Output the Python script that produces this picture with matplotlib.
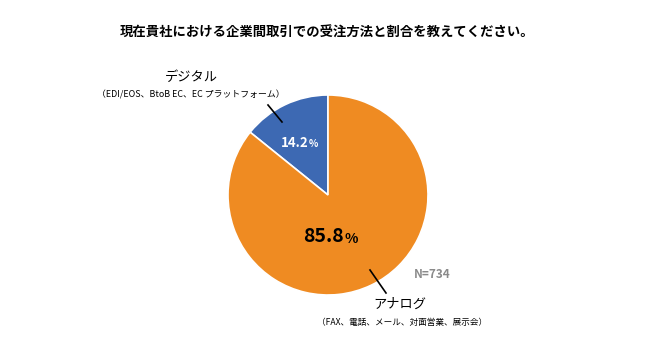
import matplotlib.pyplot as plt

plt.rcParams['font.family'] = ['Noto Sans CJK JP', 'DejaVu Sans']

title = '現在貴社における企業間取引での受注方法と割合を教えてください。'
categories = ['デジタル', 'アナログ']
sublabels = ['（EDI/EOS、BtoB EC、EC プラットフォーム）', '（FAX、電話、メール、対面営業、展示会）']
values = [14.2, 85.8]
colors = ['#3D69B3', '#EF8B22']
n_label = 'N=734'

W, H = 650, 353
fig = plt.figure(figsize=(W / 100, H / 100), dpi=100)


def px(x, y):
    return x / W, 1 - y / H


# pie: center (328,195), radius 100px
ax = fig.add_axes([228 / W, 58 / H, 200 / W, 200 / H])
ax.pie(values, colors=colors, startangle=90, counterclock=True, radius=1,
       wedgeprops=dict(edgecolor='white', linewidth=1.2))
ax.set_xlim(-1, 1)
ax.set_ylim(-1, 1)
ax.set_aspect('equal')
ax.axis('off')

fig.text(*px(327, 33), title, ha='center', va='center', fontsize=9.6, fontweight='bold')

# デジタル
fig.text(*px(191, 77), categories[0], ha='center', va='center', fontsize=9.5)
fig.text(*px(191, 95), sublabels[0], ha='center', va='center', fontsize=6.4)
fig.add_artist(plt.Line2D([268 / W, 282 / W], [1 - 105 / H, 1 - 122 / H], color='black', lw=1.2))

# アナログ
fig.text(*px(400, 304), categories[1], ha='center', va='center', fontsize=9.5)
fig.text(*px(402, 323), sublabels[1], ha='center', va='center', fontsize=6.2)
fig.add_artist(plt.Line2D([370 / W, 386 / W], [1 - 270 / H, 1 - 293 / H], color='black', lw=1.2))

# percentages
fig.text(*px(309, 143), f'{values[0]}', ha='right', va='center', fontsize=9.5,
         fontweight='bold', color='white')
fig.text(*px(309, 144), '%', ha='left', va='center', fontsize=7,
         fontweight='bold', color='white')
fig.text(*px(344, 237), f'{values[1]}', ha='right', va='center', fontsize=14,
         fontweight='bold', color='black')
fig.text(*px(344, 239), '%', ha='left', va='center', fontsize=10,
         fontweight='bold', color='black')

fig.text(*px(432, 275), n_label, ha='center', va='center', fontsize=8.5,
         fontweight='bold', color='#8a8a8a')

fig.savefig('out.png', dpi=100)
